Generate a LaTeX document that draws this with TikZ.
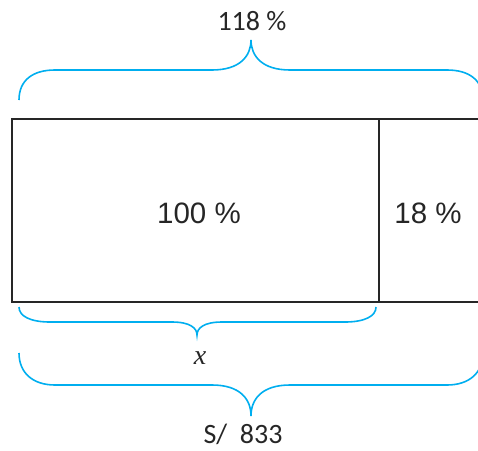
\documentclass[tikz,border=0pt]{standalone}
\usepackage{fontspec}
\setmainfont{Liberation Sans}
\newfontfamily\calfont{Carlito}
\newfontfamily\serfont{Liberation Serif}
\usepackage{xcolor}
\usepackage{tikz}
\usetikzlibrary{calc}

\definecolor{bracecyan}{RGB}{0,174,239}

\begin{document}
\begin{tikzpicture}[x=1pt, y=-1pt,
    bar/.style={draw=black!85, line width=1.6pt},
    curly/.style={draw=bracecyan, line width=1.6pt},
    partlabel/.style={font=\fontsize{29.5}{30}\selectfont, text=black!85, inner sep=0pt},
    bracelabel/.style={font=\calfont\fontsize{28}{28}\selectfont, text=black!85, inner sep=0pt}]
  \useasboundingbox (0,0) rectangle (478,450);
  \clip (0,0) rectangle (478,450);
  \begin{scope}
    \def\barleft{12}
    \def\bartop{119}
    \def\barbottom{302}
    \def\splitx{379}

    % Bar: 100 % part and 18 % part
    \coordinate (tl) at (\barleft, \bartop);
    \coordinate (br) at (520, \barbottom);
    \draw[bar] (tl) rectangle (br);
    \draw[bar] (\splitx, \bartop) -- (\splitx, \barbottom);
    \node[partlabel] (hundred) at (199, 213) {100 \%};
    \node[partlabel] (eighteen) at (428, 213) {18 \%};

    % Top brace: 118 %
    \draw[curly] (19,100) .. controls (19,80) and (33,70) .. (55,70) -- (212,70)
      .. controls (240,70) and (251,56) .. (251,40)
      .. controls (251,56) and (262,70) .. (290,70) -- (447,70)
      .. controls (469,70) and (483,80) .. (483,100);
    \node[bracelabel] (total) at (252, 21) {118 \%};

    % Small bottom brace: x
    \draw[curly] (19,307) .. controls (19,316) and (30,322) .. (50,322) -- (172,322)
      .. controls (190,322) and (197,328) .. (197,335)
      .. controls (197,328) and (204,322) .. (222,322) -- (345,322)
      .. controls (365,322) and (376,316) .. (376,307);
    \node[font=\serfont\itshape\fontsize{28}{28}\selectfont, text=black!85, inner sep=0pt]
      (unknown) at (200, 358) {x};

    % Big bottom brace: S/ 833
    \draw[curly] (19,353) .. controls (19,373) and (33,385) .. (55,385) -- (212,385)
      .. controls (240,385) and (251,399) .. (251,416)
      .. controls (251,399) and (262,385) .. (290,385) -- (447,385)
      .. controls (469,385) and (483,373) .. (483,353);
    \node[bracelabel] (money) at (243, 434) {S/~~833};
  \end{scope}
\end{tikzpicture}
\end{document}
